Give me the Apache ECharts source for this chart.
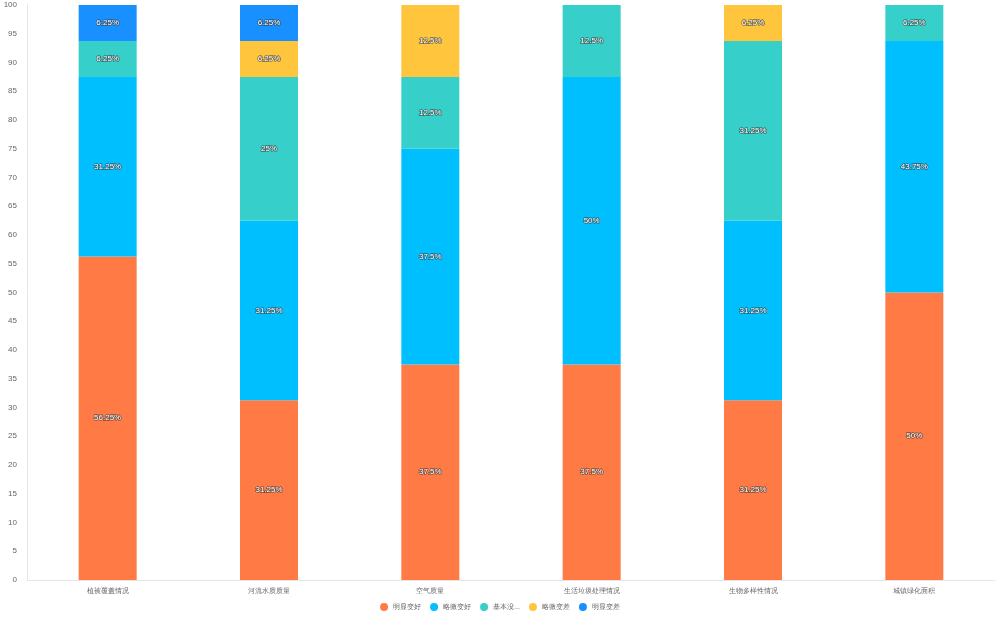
<!DOCTYPE html>
<html>
<head>
    <meta charset="utf-8">
    <script src="https://cdn.jsdelivr.net/npm/echarts@6/dist/echarts.min.js"></script>
    <style type="text/css">
        html, body { margin: 0; padding: 0; background: #fff; }
        #main { width: 1000px; height: 625px; }
    </style>
</head>
<body>
    <div id="main"></div>
    <script>
        const categories = ['植被覆盖情况', '河流水质质量', '空气质量', '生活垃圾处理情况', '生物多样性情况', '城镇绿化面积'];
        const seriesNames = ['明显变好', '略微变好', '基本没变化', '略微变差', '明显变差'];
        const mingxianBianhao = [56.25, 31.25, 37.5, 37.5, 31.25, 50];
        const lueweiBianhao = [31.25, 31.25, 37.5, 50, 31.25, 43.75];
        const jibenMeibian = [6.25, 25, 12.5, 12.5, 31.25, 6.25];
        const lueweiBiancha = [0, 6.25, 12.5, 0, 6.25, 0];
        const mingxianBiancha = [6.25, 6.25, 0, 0, 0, 0];
        const yTicks = { min: 0, max: 100, interval: 5 };
        const colors = ['#ff7a45', '#00bfff', '#36cfc9', '#ffc53d', '#1890ff'];

        const values = [mingxianBianhao, lueweiBianhao, jibenMeibian, lueweiBiancha, mingxianBiancha];

        const myChart = echarts.init(document.getElementById('main'));

        myChart.setOption({
            color: colors,
            animation: false,
            grid: { left: 27, right: 5, top: 5, bottom: 45, containLabel: false },
            legend: {
                bottom: 9,
                itemWidth: 8,
                itemHeight: 8,
                itemGap: 9,
                icon: 'circle',
                textStyle: { fontSize: 7, color: '#666', width: 29, overflow: 'truncate' },
                data: seriesNames
            },
            xAxis: {
                type: 'category',
                data: categories,
                axisTick: { show: false },
                axisLine: { lineStyle: { color: '#e6e6e6' } },
                axisLabel: { fontSize: 7, color: '#666', margin: 8 }
            },
            yAxis: {
                type: 'value',
                min: yTicks.min,
                max: yTicks.max,
                interval: yTicks.interval,
                axisLine: { show: true, lineStyle: { color: '#e6e6e6' } },
                axisTick: { show: false },
                splitLine: { show: false },
                axisLabel: { fontSize: 8, color: '#666', margin: 10 }
            },
            series: seriesNames.map((name, i) => ({
                name: name,
                type: 'bar',
                stack: 'total',
                barWidth: 58,
                data: values[i].map(v => v === 0 ? null : v),
                label: {
                    show: true,
                    position: 'inside',
                    fontSize: 8,
                    color: '#fff',
                    textBorderColor: 'rgba(60,60,60,0.7)',
                    textBorderWidth: 1.5,
                    formatter: p => p.value + '%'
                }
            }))
        });
    </script>
</body>
</html>
